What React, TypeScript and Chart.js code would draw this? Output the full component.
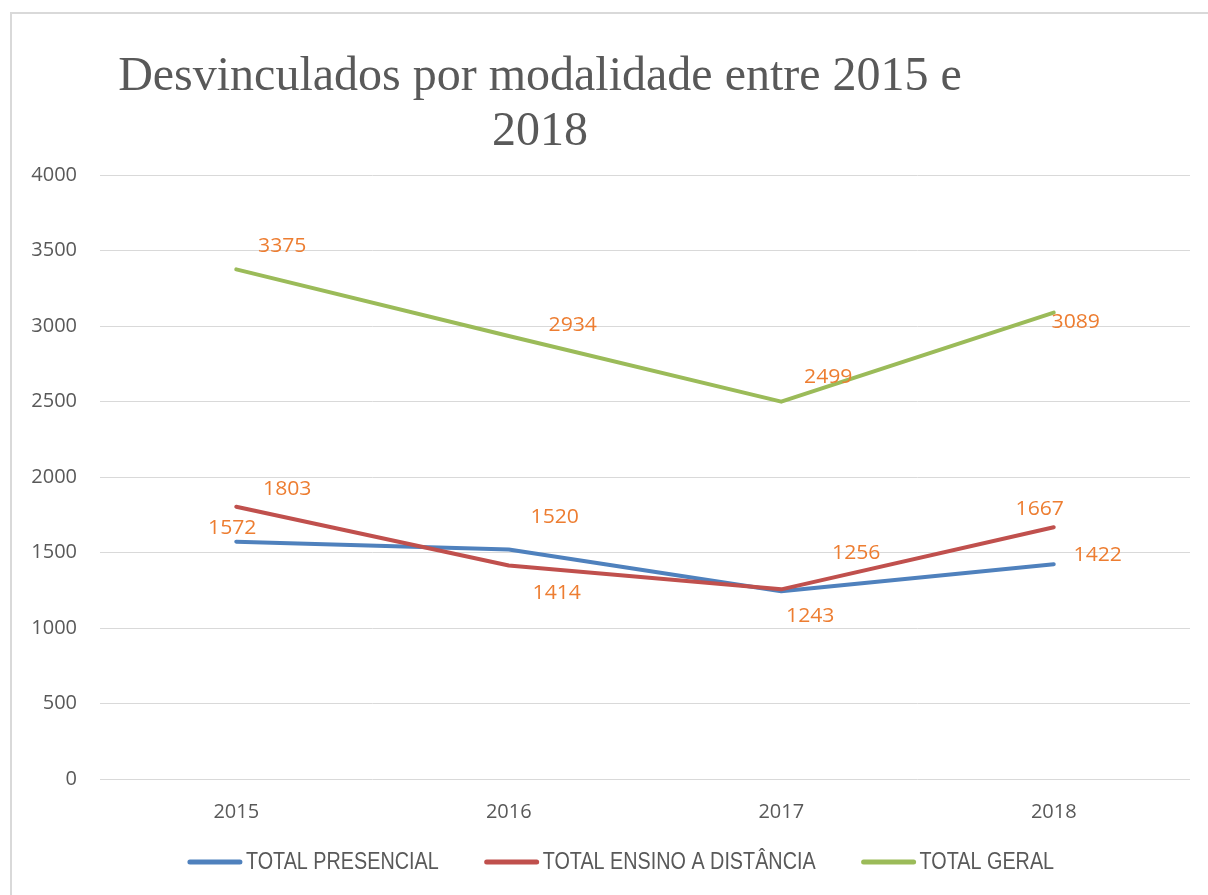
import React, { useEffect, useRef } from "react";
import { Chart, registerables } from "chart.js";

Chart.register(...registerables);

const categories = ["2015", "2016", "2017", "2018"];
const presencial = [1572, 1520, 1243, 1422];
const ensinoDistancia = [1803, 1414, 1256, 1667];
const totalGeral = [3375, 2934, 2499, 3089];
const seriesNames = ["TOTAL PRESENCIAL", "TOTAL ENSINO A DISTÂNCIA", "TOTAL GERAL"];
const seriesColors = ["#4F81BD", "#C0504D", "#9BBB59"];
const titleLines = ["Desvinculados por modalidade entre 2015 e", "2018"];
const yTicks = { min: 0, max: 4000, step: 500 };

// data-label placement offsets (px) relative to each point, per series
const labelOffsets = [
  [[-4, -13], [46, -32], [29, 25], [44, -9]],
  [[51, -17], [48, 28], [75, -36], [-14, -18]],
  [[46, -23], [64, -11], [47, -24], [22, 10]],
];

const GREY = "#595959";
const LABEL_COLOR = "#ED7D31";
const NUM_FONT = '"Open Sans", "DejaVu Sans", sans-serif';

const framePlugin = {
  id: "frame",
  beforeDraw(chart: any) {
    const ctx = chart.ctx;
    ctx.save();
    ctx.fillStyle = "#ffffff";
    ctx.fillRect(0, 0, chart.width, chart.height);
    ctx.strokeStyle = "#D9D9D9";
    ctx.lineWidth = 2;
    ctx.beginPath();
    ctx.moveTo(11, chart.height + 5);
    ctx.lineTo(11, 13);
    ctx.lineTo(chart.width + 5, 13);
    ctx.stroke();
    ctx.restore();
  },
};

const labelsPlugin = {
  id: "valueLabels",
  afterDatasetsDraw(chart: any) {
    const ctx = chart.ctx;
    ctx.save();
    ctx.font = `20px ${NUM_FONT}`;
    ctx.fillStyle = LABEL_COLOR;
    ctx.textAlign = "center";
    ctx.textBaseline = "middle";
    chart.data.datasets.forEach((ds: any, di: number) => {
      const meta = chart.getDatasetMeta(di);
      meta.data.forEach((pt: any, i: number) => {
        const off = labelOffsets[di][i];
        ctx.save();
        ctx.translate(pt.x + off[0], pt.y + off[1]);
        ctx.scale(1.06, 1);
        ctx.fillText(String(ds.data[i]), 0, 0);
        ctx.restore();
      });
    });
    ctx.restore();
  },
};

const titleLegendPlugin = {
  id: "titleLegend",
  afterDraw(chart: any) {
    const ctx = chart.ctx;
    ctx.save();
    // title
    ctx.font = '48px "Liberation Serif", "Times New Roman", serif';
    ctx.fillStyle = GREY;
    ctx.textAlign = "center";
    ctx.textBaseline = "alphabetic";
    ctx.fillText(titleLines[0], 540, 90);
    ctx.fillText(titleLines[1], 540, 145);

    // legend (condensed sans)
    const squeeze = 0.86;
    ctx.font = '23px "Liberation Sans", Arial, sans-serif';
    ctx.textBaseline = "middle";
    ctx.textAlign = "left";
    const lineLen = 54;
    const gapText = 4;
    const gapItem = 46;
    const widths = seriesNames.map((n) => lineLen + gapText + ctx.measureText(n).width * squeeze);
    const total = widths.reduce((a, b) => a + b, 0) + gapItem * (widths.length - 1);
    let x = 621 - total / 2;
    const y = 862;
    seriesNames.forEach((n, i) => {
      ctx.strokeStyle = seriesColors[i];
      ctx.lineWidth = 5;
      ctx.lineCap = "round";
      ctx.beginPath();
      ctx.moveTo(x + 2, y);
      ctx.lineTo(x + lineLen - 2, y);
      ctx.stroke();
      ctx.fillStyle = GREY;
      ctx.save();
      ctx.translate(x + lineLen + gapText, y + 1);
      ctx.scale(squeeze, 1);
      ctx.fillText(n, 0, 0);
      ctx.restore();
      x += widths[i] + gapItem;
    });
    ctx.restore();
  },
};

export default function App() {
  const ref = useRef<HTMLCanvasElement | null>(null);
  useEffect(() => {
    if (!ref.current) return;
    const seriesData = [presencial, ensinoDistancia, totalGeral];
    const chart = new Chart(ref.current, {
      type: "line",
      data: {
        labels: categories,
        datasets: seriesData.map((d, i) => ({
          label: seriesNames[i],
          data: d,
          borderColor: seriesColors[i],
          backgroundColor: seriesColors[i],
          borderWidth: 4,
          pointRadius: 0,
          tension: 0,
          borderCapStyle: "round",
          borderJoinStyle: "round",
          order: 3 - i,
        })),
      },
      options: {
        responsive: false,
        animation: false,
        layout: { padding: { top: 175, right: 18, left: 0, bottom: 0 } },
        plugins: {
          legend: { display: false },
          title: { display: false },
          tooltip: { enabled: false },
        },
        scales: {
          x: {
            type: "category",
            offset: true,
            grid: { display: false, drawTicks: false },
            border: { display: false },
            ticks: { color: GREY, font: { family: NUM_FONT, size: 20 }, padding: 21 },
            afterFit: (s: any) => {
              s.height = 116;
            },
          },
          y: {
            min: yTicks.min,
            max: yTicks.max,
            ticks: {
              stepSize: yTicks.step,
              color: GREY,
              font: { family: NUM_FONT, size: 20 },
              padding: 23,
              callback: (v: any) => String(v),
            },
            grid: { color: "#D9D9D9", lineWidth: 1, drawTicks: false },
            border: { display: false },
            afterFit: (s: any) => {
              s.width = 100;
            },
          },
        },
      },
      plugins: [framePlugin, labelsPlugin, titleLegendPlugin],
    } as any);
    return () => chart.destroy();
  }, []);
  return (
    <div style={{ position: "fixed", left: 0, top: 0, width: 1208, height: 895, background: "#fff" }}>
      <canvas ref={ref} width={1208} height={895} style={{ display: "block" }} />
    </div>
  );
}
